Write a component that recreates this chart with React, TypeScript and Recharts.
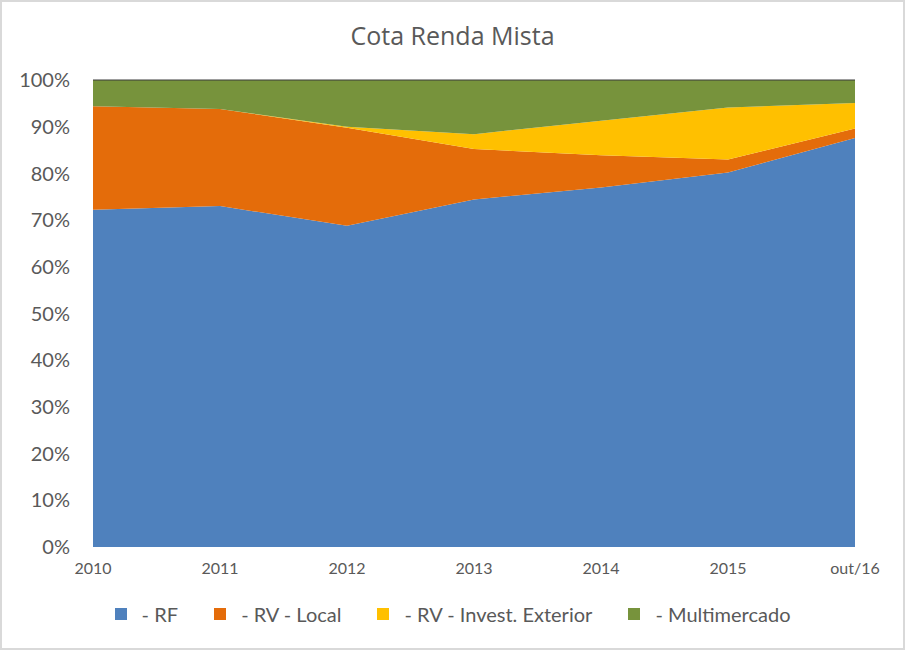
import { Area, AreaChart, ReferenceLine, XAxis, YAxis } from "recharts";

const years = ["2010", "2011", "2012", "2013", "2014", "2015", "out/16"];
const rf = [72.2, 73.0, 68.8, 74.4, 77.0, 80.2, 87.6];
const rvLocal = [22.2, 20.8, 21.0, 10.8, 6.9, 2.8, 2.0];
const rvExterior = [0, 0, 0.2, 3.2, 7.4, 11.1, 5.5];
const multimercado = [5.6, 6.2, 10.0, 11.6, 8.7, 5.9, 4.9];
const yTicks = [0, 10, 20, 30, 40, 50, 60, 70, 80, 90, 100];

const series = [
  { key: "rf", name: " - RF", color: "#4F81BD" },
  { key: "rvLocal", name: " - RV - Local", color: "#E46C0A" },
  { key: "rvExterior", name: " - RV - Invest. Exterior", color: "#FFC000" },
  { key: "multimercado", name: " - Multimercado", color: "#77933C" }
];

const data = years.map((year, i) => ({
  year,
  rf: rf[i],
  rvLocal: rvLocal[i],
  rvExterior: rvExterior[i],
  multimercado: multimercado[i]
}));

const font = "Lato, 'Liberation Sans', sans-serif";

export default function App() {
  return (
    <div
      style={{
        position: "absolute",
        left: 0,
        top: 0,
        width: 905,
        height: 650,
        background: "#fff",
        fontFamily: font
      }}
    >
      <div
        style={{
          position: "absolute",
          left: 0,
          top: 18,
          width: 905,
          textAlign: "center",
          fontFamily: "'Open Sans', sans-serif",
          fontSize: 25,
          color: "#595959"
        }}
      >
        Cota Renda Mista
      </div>
      <AreaChart
        width={905}
        height={650}
        data={data}
        margin={{ top: 80, right: 50, bottom: 73, left: 0 }}
      >
        <XAxis
          dataKey="year"
          axisLine={false}
          tickLine={false}
          tickSize={0}
          tickMargin={16}
          height={30}
          interval={0}
          tick={{ fill: "#595959", fontSize: 16, fontFamily: font }}
        />
        <YAxis
          type="number"
          domain={[0, 100]}
          ticks={yTicks}
          width={93}
          axisLine={false}
          tickLine={false}
          tickSize={0}
          tickMargin={23}
          tickFormatter={(v: number) => `${v}%`}
          tick={{ fill: "#595959", fontSize: 20, fontFamily: font }}
        />
        {series.map((s) => (
          <Area
            key={s.key}
            type="linear"
            dataKey={s.key}
            name={s.name}
            stackId="1"
            stroke="none"
            fill={s.color}
            fillOpacity={1}
            isAnimationActive={false}
          />
        ))}
        <ReferenceLine y={100} stroke="#3a3a3a" strokeWidth={1} />
      </AreaChart>
      <div
        style={{
          position: "absolute",
          left: 0,
          top: 602,
          width: 905,
          display: "flex",
          justifyContent: "center",
          gap: 36,
          fontSize: 20,
          color: "#595959",
          whiteSpace: "pre"
        }}
      >
        {series.map((s) => (
          <div key={s.key} style={{ display: "flex", alignItems: "center" }}>
            <span
              style={{ width: 12, height: 12, background: s.color, marginRight: 10 }}
            />
            <span>{s.name}</span>
          </div>
        ))}
      </div>
      <div
        style={{
          position: "absolute",
          left: 0,
          top: 0,
          width: 905,
          height: 650,
          boxSizing: "border-box",
          border: "2px solid #d9d9d9",
          pointerEvents: "none"
        }}
      />
    </div>
  );
}
